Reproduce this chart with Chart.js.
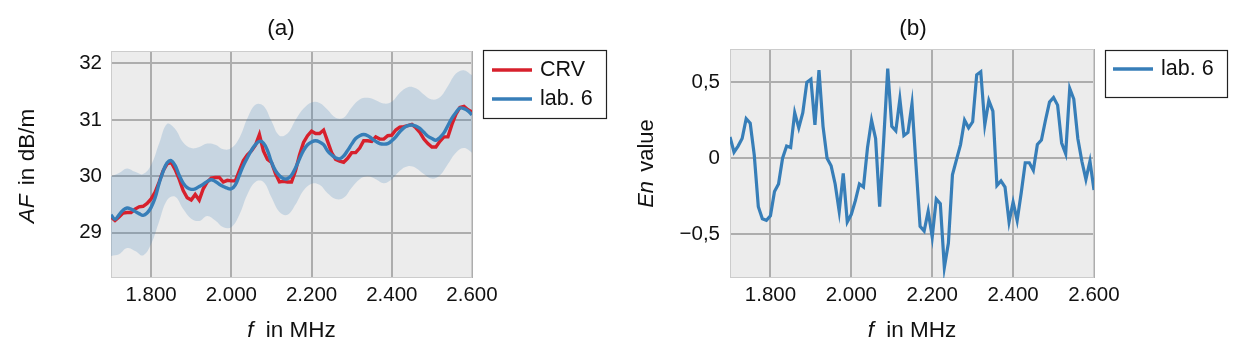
<!DOCTYPE html>
<html><head><meta charset="utf-8">
<script src="https://cdn.jsdelivr.net/npm/chart.js@4.4.1/dist/chart.umd.min.js"></script>
<style>
html,body{margin:0;padding:0;background:#fff;}
#wrap{position:relative;width:1246px;height:357px;overflow:hidden;}
.panel{position:absolute;top:0;width:623px;height:357px;}
#pa{left:0}#pb{left:623px}
</style></head><body>
<div id="wrap"><div class="panel" id="pa"><canvas id="ca" width="623" height="357"></canvas></div><div class="panel" id="pb"><canvas id="cb" width="623" height="357"></canvas></div></div>
<script>
// ---- data ----
const freq = [1700,1710,1720,1730,1740,1750,1760,1770,1780,1790,1800,1810,1820,1830,1840,1850,1860,1870,1880,1890,1900,1910,1920,1930,1940,1950,1960,1970,1980,1990,2000,2010,2020,2030,2040,2050,2060,2070,2080,2090,2100,2110,2120,2130,2140,2150,2160,2170,2180,2190,2200,2210,2220,2230,2240,2250,2260,2270,2280,2290,2300,2310,2320,2330,2340,2350,2360,2370,2380,2390,2400,2410,2420,2430,2440,2450,2460,2470,2480,2490,2500,2510,2520,2530,2540,2550,2560,2570,2580,2590,2600];
const crvAF = [29.28,29.22,29.28,29.35,29.36,29.36,29.42,29.46,29.47,29.52,29.60,29.72,29.90,30.10,30.22,30.25,30.12,29.95,29.75,29.62,29.58,29.68,29.58,29.78,29.90,29.97,29.98,29.98,29.90,29.93,29.92,29.92,30.10,30.28,30.38,30.45,30.55,30.74,30.45,30.30,30.25,30.05,29.90,29.91,29.90,29.90,30.10,30.38,30.60,30.72,30.80,30.76,30.76,30.82,30.62,30.42,30.30,30.27,30.25,30.32,30.42,30.42,30.50,30.63,30.63,30.62,30.70,30.66,30.66,30.72,30.73,30.82,30.87,30.88,30.90,30.92,30.86,30.78,30.66,30.58,30.52,30.52,30.62,30.70,30.70,30.92,31.10,31.22,31.24,31.18,31.14];
const lab6AF = [29.32,29.24,29.32,29.40,29.44,29.42,29.38,29.34,29.31,29.35,29.45,29.62,29.88,30.09,30.24,30.28,30.19,30.02,29.88,29.80,29.77,29.78,29.82,29.86,29.91,29.94,29.91,29.86,29.82,29.79,29.78,29.85,30.02,30.19,30.33,30.46,30.56,30.62,30.59,30.46,30.25,30.10,30.01,29.96,29.96,30.02,30.15,30.31,30.46,30.56,30.61,30.63,30.61,30.56,30.45,30.38,30.33,30.31,30.36,30.46,30.57,30.67,30.72,30.74,30.72,30.67,30.62,30.58,30.57,30.58,30.63,30.70,30.79,30.86,30.90,30.91,30.89,30.85,30.78,30.71,30.67,30.64,30.69,30.77,30.90,31.03,31.13,31.21,31.20,31.16,31.09];
const bandFreq = [1700,1720,1740,1760,1780,1800,1820,1840,1860,1880,1900,1920,1940,1960,1980,2000,2020,2040,2060,2080,2100,2120,2140,2160,2180,2200,2220,2240,2260,2280,2300,2320,2340,2360,2380,2400,2420,2440,2460,2480,2500,2520,2540,2560,2580,2600];
const lab6Upper = [30.00,30.06,30.14,30.08,30.04,30.20,30.58,30.93,30.84,30.60,30.50,30.52,30.58,30.56,30.48,30.50,30.68,31.03,31.27,31.25,30.98,30.72,30.76,31.00,31.20,31.31,31.30,31.18,31.04,31.04,31.22,31.36,31.39,31.35,31.29,31.32,31.48,31.58,31.56,31.45,31.36,31.40,31.60,31.82,31.88,31.79];
const lab6Lower = [28.59,28.62,28.73,28.68,28.60,28.80,29.20,29.58,29.64,29.42,29.25,29.21,29.30,29.22,29.10,29.10,29.32,29.68,29.90,29.90,29.63,29.37,29.32,29.50,29.75,29.87,29.85,29.70,29.60,29.62,29.80,29.95,30.00,29.95,29.88,29.95,30.10,30.18,30.15,30.04,29.96,30.02,30.22,30.42,30.50,30.42];
const lab6En = [0.14,0.04,0.08,0.13,0.26,0.23,0.02,-0.32,-0.40,-0.41,-0.38,-0.22,-0.17,0.00,0.08,0.07,0.30,0.20,0.30,0.50,0.52,0.22,0.58,0.21,0.00,-0.05,-0.17,-0.35,-0.10,-0.42,-0.37,-0.28,-0.17,-0.19,0.07,0.25,0.13,-0.32,0.12,0.59,0.21,0.18,0.39,0.15,0.17,0.36,-0.05,-0.45,-0.48,-0.35,-0.52,-0.27,-0.30,-0.72,-0.56,-0.11,-0.01,0.09,0.25,0.20,0.24,0.55,0.57,0.22,0.38,0.31,-0.18,-0.15,-0.19,-0.42,-0.29,-0.41,-0.23,-0.03,-0.03,-0.08,0.09,0.12,0.25,0.37,0.40,0.35,0.10,0.03,0.46,0.39,0.13,-0.02,-0.14,-0.02,-0.21];
const xTickValues = [1800,2000,2200,2400,2600];
const xTickLabels = ['1.800','2.000','2.200','2.400','2.600'];
const yTickValuesA = [29,30,31,32];
const yTickLabelsA = ['29','30','31','32'];
const yTickValuesB = [-0.5,0,0.5];
const yTickLabelsB = ['\u22120,5','0','0,5'];

// ---- style ----
const FONT = "'Liberation Sans', Arial, sans-serif";
const BLUE = '#377eb8', RED = '#d7202c', BAND = 'rgba(55,126,184,0.20)';
const GRID = '#adadad', BG = '#ececec', FRAME = '#cccccc', TXT = '#111';
Chart.defaults.font.family = FONT;
Chart.defaults.color = TXT;

const pts = (xs, ys) => xs.map((x, i) => ({x, y: ys[i]}));

const plotBg = {
  id: 'plotBg',
  beforeDraw(chart) {
    const {ctx, chartArea: a} = chart;
    ctx.save(); ctx.fillStyle = BG; ctx.fillRect(a.left, a.top, a.width, a.height); ctx.restore();
  },
  beforeDatasetsDraw(chart) {
    const {ctx, chartArea: a} = chart;
    ctx.save(); ctx.strokeStyle = FRAME; ctx.lineWidth = 1;
    ctx.strokeRect(a.left + 0.5, a.top + 0.5, a.width - 1, a.height - 1); ctx.restore();
  }
};

function drawRich(ctx, it) {
  ctx.save();
  ctx.translate(it.x, it.y);
  if (it.rot) ctx.rotate(it.rot);
  ctx.textBaseline = 'middle'; ctx.textAlign = 'left'; ctx.fillStyle = TXT;
  let total = 0;
  const ws = it.parts.map(p => {
    ctx.font = (p.italic ? 'italic ' : '') + it.size + 'px ' + FONT;
    const w = ctx.measureText(p.t).width + (p.gap || 0);
    total += w; return w;
  });
  let cx = -total / 2;
  it.parts.forEach((p, i) => {
    ctx.font = (p.italic ? 'italic ' : '') + it.size + 'px ' + FONT;
    ctx.fillText(p.t, cx, 0); cx += ws[i];
  });
  ctx.restore();
}
const texts = {
  id: 'texts',
  afterDraw(chart, args, o) { (o.items || []).forEach(it => drawRich(chart.ctx, it)); }
};
const boxLegend = {
  id: 'boxLegend',
  afterDraw(chart, args, o) {
    const ctx = chart.ctx;
    ctx.save();
    ctx.fillStyle = '#fff'; ctx.fillRect(o.x, o.y, o.w, o.h);
    ctx.strokeStyle = '#222'; ctx.lineWidth = 1.2;
    ctx.strokeRect(o.x + 0.5, o.y + 0.5, o.w, o.h);
    o.items.forEach((di, k) => {
      const ds = chart.data.datasets[di];
      const yy = o.y + o.first + k * o.step;
      ctx.strokeStyle = ds.borderColor; ctx.lineWidth = 3.5;
      ctx.beginPath(); ctx.moveTo(o.x + o.lx0, yy); ctx.lineTo(o.x + o.lx1, yy); ctx.stroke();
      ctx.fillStyle = TXT; ctx.font = o.size + 'px ' + FONT;
      ctx.textBaseline = 'middle'; ctx.textAlign = 'left';
      ctx.fillText(ds.label, o.x + o.tx, yy);
    });
    ctx.restore();
  }
};

function xScale() {
  return {
    type: 'linear', min: 1700, max: 2600,
    afterBuildTicks: s => { s.ticks = xTickValues.map(v => ({value: v})); },
    afterFit: s => { s.height = 79; },
    ticks: { callback: v => xTickLabels[xTickValues.indexOf(v)], font: {size: 20.5}, padding: 5, maxRotation: 0, autoSkip: false, color: TXT },
    grid: { color: GRID, lineWidth: 2, drawTicks: false },
    border: { display: false }
  };
}
function yScale(min, max, vals, labels, width, pad) {
  return {
    type: 'linear', min, max,
    afterBuildTicks: s => { s.ticks = vals.map(v => ({value: v})); },
    afterFit: s => { s.width = width; },
    ticks: { callback: v => labels[vals.indexOf(v)], font: {size: 20.5}, padding: pad, color: TXT },
    grid: { color: GRID, lineWidth: 2, drawTicks: false },
    border: { display: false }
  };
}

new Chart(document.getElementById('ca'), {
  type: 'line',
  data: { datasets: [
    { label: 'lab. 6', data: pts(freq, lab6AF), borderColor: BLUE, borderWidth: 3.4, pointRadius: 0, tension: 0.4, fill: false },
    { label: 'CRV', data: pts(freq, crvAF), borderColor: RED, borderWidth: 3.4, pointRadius: 0, tension: 0, fill: false },
    { label: 'upper', data: pts(bandFreq, lab6Upper), borderColor: 'transparent', borderWidth: 0, pointRadius: 0, tension: 0.4, fill: '+1', backgroundColor: BAND },
    { label: 'lower', data: pts(bandFreq, lab6Lower), borderColor: 'transparent', borderWidth: 0, pointRadius: 0, tension: 0.4, fill: false }
  ]},
  options: {
    responsive: false, animation: false, devicePixelRatio: 1,
    layout: { padding: { left: 0, top: 51, right: 151, bottom: 0 } },
    scales: { x: xScale(), y: yScale(28.2, 32.22, yTickValuesA, yTickLabelsA, 111, 9) },
    plugins: {
      legend: { display: false }, tooltip: { enabled: false },
      boxLegend: { x: 483, y: 50, w: 123, h: 68, first: 20, step: 29, lx0: 9, lx1: 49, tx: 57, size: 21.5, items: [1, 0] },
      texts: { items: [
        { x: 281, y: 29, size: 22.5, parts: [{t: '(a)'}] },
        { x: 291.5, y: 331, size: 22.5, parts: [{t: 'f', italic: true, gap: 6}, {t: ' in MHz'}] },
        { x: 27.5, y: 166, size: 22.5, rot: -Math.PI / 2, parts: [{t: 'AF', italic: true, gap: 3}, {t: ' in dB/m'}] }
      ]}
    }
  },
  plugins: [plotBg, texts, boxLegend]
});

new Chart(document.getElementById('cb'), {
  type: 'line',
  data: { datasets: [
    { label: 'lab. 6', data: pts(freq, lab6En), borderColor: BLUE, borderWidth: 3.2, pointRadius: 0, tension: 0, fill: false }
  ]},
  options: {
    responsive: false, animation: false, devicePixelRatio: 1,
    layout: { padding: { left: 0, top: 49, right: 152, bottom: 0 } },
    scales: { x: xScale(), y: yScale(-0.79, 0.72, yTickValuesB, yTickLabelsB, 107, 10) },
    plugins: {
      legend: { display: false }, tooltip: { enabled: false },
      boxLegend: { x: 482, y: 50, w: 122, h: 47, first: 19, step: 29, lx0: 8, lx1: 48, tx: 56, size: 21.5, items: [0] },
      texts: { items: [
        { x: 290, y: 29, size: 22.5, parts: [{t: '(b)'}] },
        { x: 289, y: 331, size: 22.5, parts: [{t: 'f', italic: true, gap: 6}, {t: ' in MHz'}] },
        { x: 23.5, y: 163.5, size: 22, rot: -Math.PI / 2, parts: [{t: 'En', italic: true, gap: 3}, {t: ' value'}] }
      ]}
    }
  },
  plugins: [plotBg, texts, boxLegend]
});
</script>
</body></html>
